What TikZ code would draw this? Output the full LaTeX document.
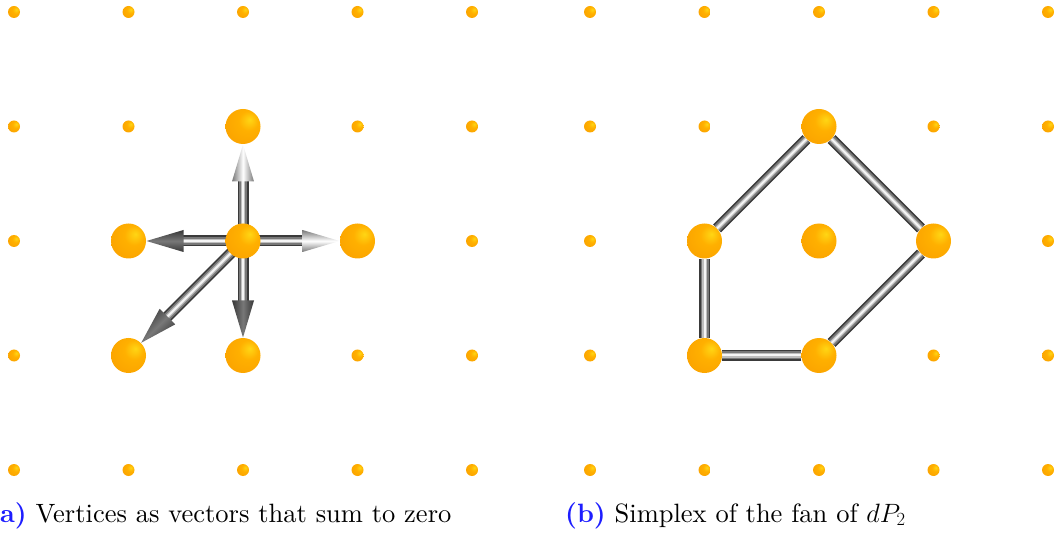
\RequirePackage{fix-cm}
\documentclass[tikz,border=0pt]{standalone}
\usepackage{fontspec}
\newfontfamily\capfont{lmroman10}[Extension=.otf, UprightFont=*-regular, BoldFont=*-bold, ItalicFont=*-italic]
\usetikzlibrary{calc,backgrounds}
\definecolor{orbH}{RGB}{255,214,20}
\definecolor{orbM}{RGB}{255,176,0}
\definecolor{orbN}{RGB}{250,160,0}
\definecolor{orbL}{RGB}{185,105,0}
\definecolor{tubeD}{RGB}{58,58,58}
\definecolor{tubeM}{RGB}{120,120,120}
\definecolor{tubeL}{RGB}{190,190,190}
\definecolor{tubeW}{RGB}{245,245,245}
\definecolor{headD}{RGB}{55,55,55}
\definecolor{capblue}{RGB}{30,30,255}
\pgfdeclareradialshading{orb}{\pgfpoint{10bp}{10bp}}{color(0bp)=(orbH); color(14bp)=(orbM); color(40bp)=(orbN); color(60bp)=(orbL); color(75bp)=(orbL)}
\tikzset{
  big/.style={circle, inner sep=0pt, minimum size=35pt, shading=orb},
  dot/.style={circle, inner sep=0pt, minimum size=12pt, shading=orb},
  tube/.style={line width=2pt, draw=tubeW,
    preaction={draw=tubeD, line width=11pt},
    preaction={draw=tubeM, line width=8pt},
    preaction={draw=tubeL, line width=4.5pt}},
  caption/.style={anchor=base west, inner sep=0pt, font=\capfont\fontsize{26.5}{31}\selectfont}
}
% #1 from, #2 to, #3 direction angle, #4 head highlight colour, #5 head edge colour
\newcommand\vecto[5]{%
  \draw[tube, shorten >=44pt] (#1.center) -- (#2.center);
  \coordinate (tip) at ($(#2.center)!18pt!(#1.center)$);
  \coordinate (hb) at ($(tip)!37pt!(#1.center)$);
  \shade[top color=#5, bottom color=#5, middle color=#4, shading angle=#3]
    (tip) -- ($(hb)!11pt!90:(tip)$) -- ($(hb)!11pt!-90:(tip)$) -- cycle;
}
\begin{document}
\begin{tikzpicture}[x=1pt, y=-1pt]
\useasboundingbox (0,0) rectangle (1057,534);
\clip (0,0) rectangle (1057,534);
% small lattice dots
\foreach \c/\r in {0/0,1/0,2/0,3/0,4/0,0/1,1/1,3/1,4/1,0/2,4/2,0/3,3/3,4/3,0/4,1/4,2/4,3/4,4/4}{
  \node[dot] (la-\c-\r) at (14+114.5*\c, 12+114.5*\r) {};
  \node[dot] (ra-\c-\r) at (590+114.5*\c, 12+114.5*\r) {};
}
% left panel vertices
\node[big] (lc)  at (243,241) {};
\node[big] (lu)  at (243,126.5) {};
\node[big] (ll)  at (128.5,241) {};
\node[big] (lr)  at (357.5,241) {};
\node[big] (ld)  at (243,355.5) {};
\node[big] (ldl) at (128.5,355.5) {};
% right panel vertices
\node[big] (rt)  at (819,126.5) {};
\node[big] (rl)  at (704.5,241) {};
\node[big] (rc)  at (819,241) {};
\node[big] (rr)  at (933.5,241) {};
\node[big] (rbl) at (704.5,355.5) {};
\node[big] (rb)  at (819,355.5) {};
\begin{pgfonlayer}{background}
  \vecto{lc}{lu}{90}{white}{tubeM}
  \vecto{lc}{lr}{0}{white}{tubeM}
  \vecto{lc}{ll}{180}{tubeM}{headD}
  \vecto{lc}{ld}{270}{tubeM}{headD}
  \vecto{lc}{ldl}{225}{tubeM}{headD}
  \draw[tube] (rt) -- (rl);
  \draw[tube] (rt) -- (rr);
  \draw[tube] (rr) -- (rb);
  \draw[tube] (rb) -- (rbl);
  \draw[tube] (rbl) -- (rl);
\end{pgfonlayer}
% captions
\node[caption] (capa) at (-12,522) {\textcolor{capblue}{\textbf{(a)}} Vertices as vectors that sum to zero};
\node[caption] (capb) at (565,522) {\textcolor{capblue}{\textbf{(b)}} Simplex of the fan of $dP_2$};
\end{tikzpicture}
\end{document}
